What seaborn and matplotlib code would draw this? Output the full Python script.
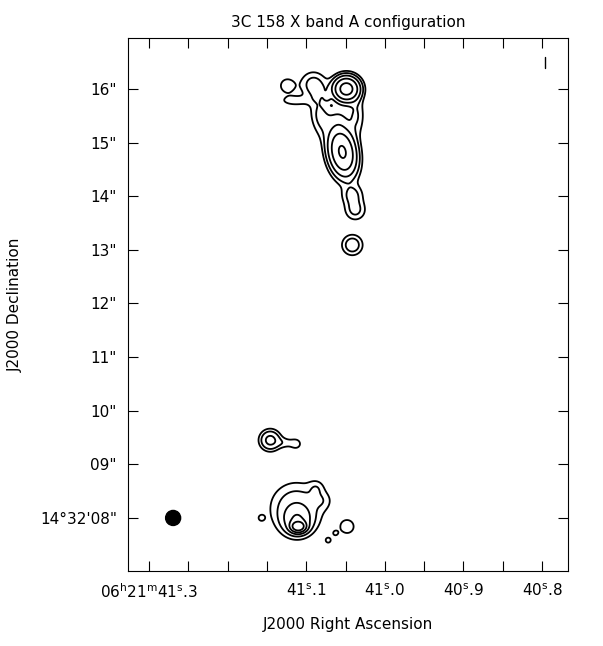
import numpy as np
import seaborn as sns
import matplotlib.pyplot as plt
from matplotlib.patches import Ellipse

# Gaussian components used to rebuild the map
# RA in seconds past 06h21m, Dec in arcsec past +14d32m, widths in arcsec
comp_ra   = [41.0490, 41.0911, 41.1140, 41.0820, 41.0732, 41.0822, 41.0363, 41.0592, 41.1242,
             41.0541, 41.0414, 41.0376, 41.0414,
             41.1459, 41.1268, 41.1127,
             41.1102, 41.1115, 41.1127, 41.0873, 41.0796,
             41.1573, 41.0480, 41.0630, 41.0720]
comp_dec  = [16.00, 16.09, 15.78, 15.92, 15.84, 15.48, 15.51, 15.46, 16.06,
             14.825, 14.02, 13.74, 13.09,
             9.45, 9.40, 9.38,
             7.84, 7.95, 8.18, 8.56, 8.33,
             8.00, 7.84, 7.716, 7.585]
comp_amp  = [22.0, 2.5, 1.5, 0.8, 1.4, 2.3, 2.0, 1.5, 1.6,
             17.5, 2.4, 2.4, 3.2,
             5.0, 1.3, 1.3,
             24.0, 6.0, 3.5, 1.3, 1.2,
             1.1, 1.8, 1.15, 1.4]
comp_smaj = [0.14, 0.16, 0.20, 0.15, 0.055, 0.25, 0.25, 0.15, 0.12,
             0.27, 0.13, 0.13, 0.125,
             0.12, 0.12, 0.08,
             0.08, 0.16, 0.30, 0.10, 0.12,
             0.06, 0.11, 0.05, 0.05]
comp_smin = [0.135, 0.16, 0.07, 0.15, 0.045, 0.12, 0.10, 0.15, 0.12,
             0.15, 0.13, 0.13, 0.125,
             0.12, 0.07, 0.08,
             0.06, 0.16, 0.30, 0.10, 0.12,
             0.06, 0.11, 0.05, 0.05]
comp_pa   = [90, 0, 90, 0, 0, 10, 0, 0, 0,
             10, 0, 0, 0,
             0, 90, 0,
             90, 0, 0, 0, 0,
             0, 0, 0, 0]
levels = [1, 2, 4, 8, 16]

beam_ra, beam_dec = 41.2694, 8.00
beam_w, beam_h = 0.0191, 0.28          # RA seconds, arcsec
bar_ra = [40.7968, 40.7968]
bar_dec = [16.60, 16.39]

xtick_pos = [41.30, 41.25, 41.20, 41.15, 41.10, 41.05, 41.00, 40.95, 40.90, 40.85, 40.80]
xtick_lab = [r"06$^{\rm h}$21$^{\rm m}$41$^{\rm s}$.3", "", "", "", r"41$^{\rm s}$.1", "",
             r"41$^{\rm s}$.0", "", r"40$^{\rm s}$.9", "", r"40$^{\rm s}$.8"]
ytick_pos = [8, 9, 10, 11, 12, 13, 14, 15, 16]
ytick_lab = ["14\u00b032'08\"", '09"', '10"', '11"', '12"', '13"', '14"', '15"', '16"']

sns.set_theme(style="ticks")
plt.rcParams['font.family'] = ['DejaVu Sans']
plt.rcParams['text.color'] = 'black'
plt.rcParams['axes.labelcolor'] = 'black'

ra = np.linspace(40.76, 41.33, 900)
dec = np.linspace(7.0, 17.0, 1100)
RA, DEC = np.meshgrid(ra, dec)
cosd = np.cos(np.radians(14.536))
img = np.zeros_like(RA)
for r0, d0, a, smaj, smin, pa in zip(comp_ra, comp_dec, comp_amp, comp_smaj, comp_smin, comp_pa):
    u = -(RA - r0) * 15 * cosd
    v = DEC - d0
    t = np.radians(pa)
    p = -u * np.sin(t) + v * np.cos(t)
    q = u * np.cos(t) + v * np.sin(t)
    img += a * np.exp(-0.5 * ((p / smaj) ** 2 + (q / smin) ** 2))

fig = plt.figure(figsize=(6.03, 6.46), dpi=100)
ax = fig.add_axes([0.2123, 0.1161, 0.7297, 0.8251])
ax.contour(RA, DEC, img, levels=levels, colors='black', linewidths=1.3)
ax.add_patch(Ellipse((beam_ra, beam_dec), beam_w, beam_h, color='black'))
ax.plot(bar_ra, bar_dec, color='black', lw=1.0)

ax.set_xlim(41.3268, 40.7669)
ax.set_ylim(7.011, 16.95)
ax.set_xticks(xtick_pos)
ax.set_xticklabels(xtick_lab)
ax.set_yticks(ytick_pos)
ax.set_yticklabels(ytick_lab)
ax.tick_params(direction='in', top=True, right=True, length=7, width=0.8,
               labelsize=11, pad=8, colors='black')
for s in ax.spines.values():
    s.set_linewidth(0.8)
    s.set_color('black')
ax.set_title("3C 158 X band A configuration", fontsize=11, pad=8, color='black')
ax.set_xlabel("J2000 Right Ascension", fontsize=11, labelpad=12)
ax.set_ylabel("J2000 Declination", fontsize=11, labelpad=12)

fig.savefig("out.png", dpi=100)
